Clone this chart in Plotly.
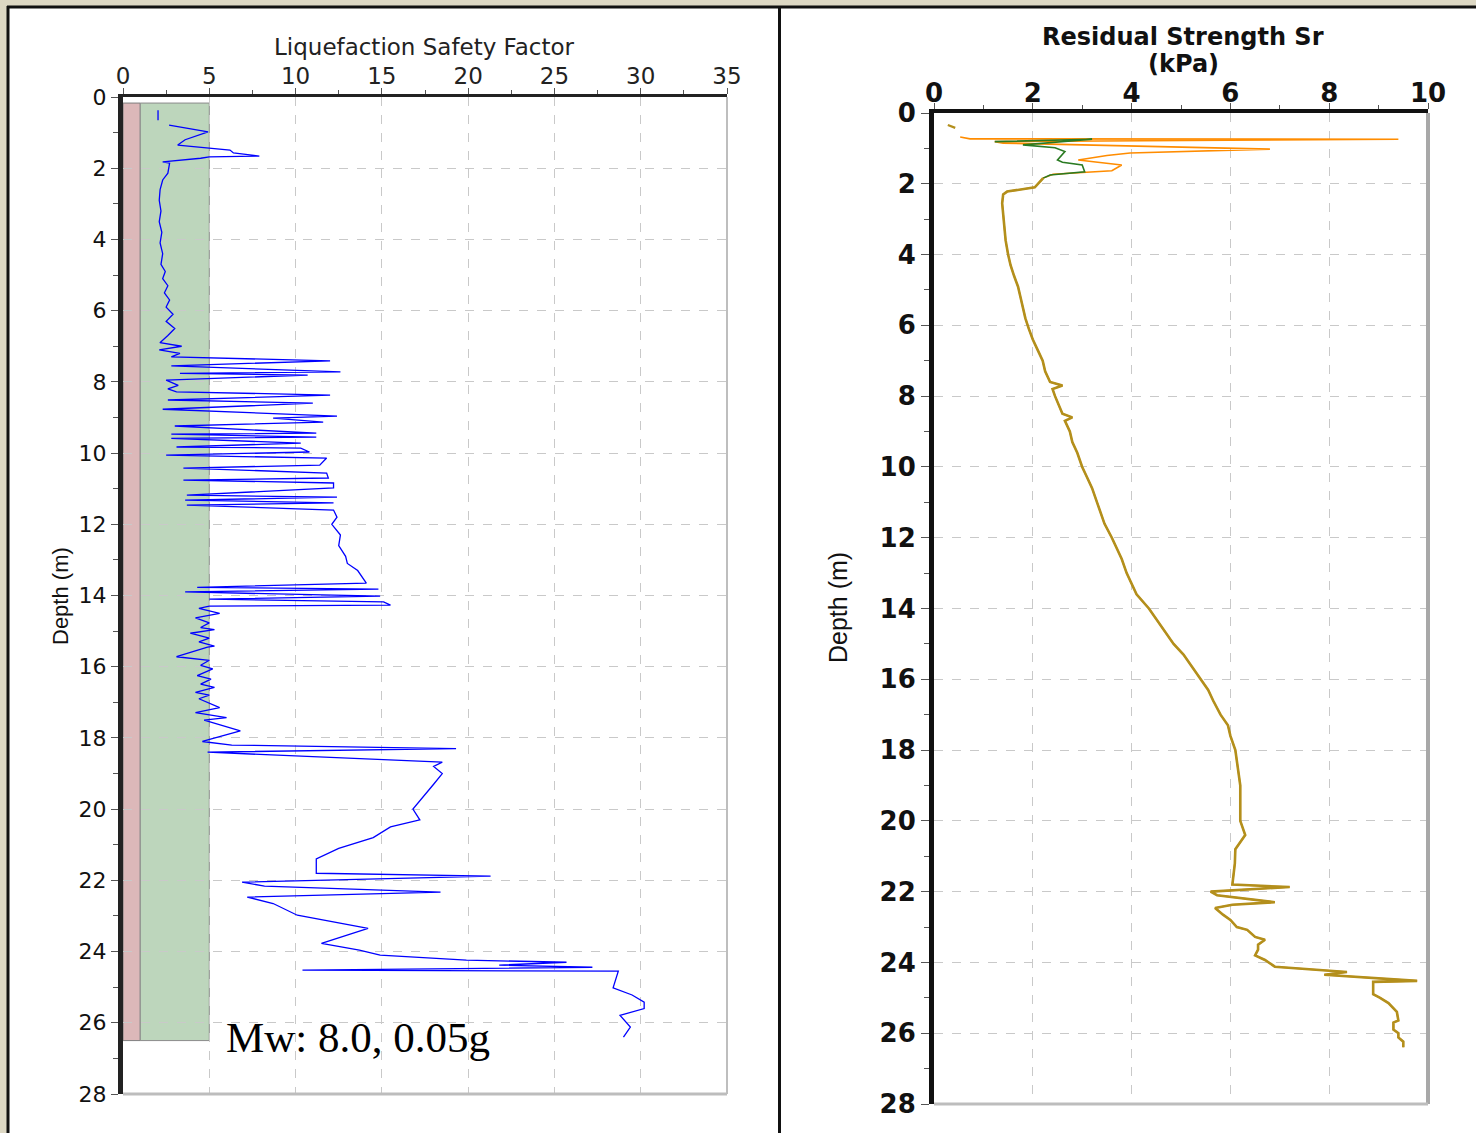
import plotly.graph_objects as go

W, H = 1476, 1133

# ---------------- Data: Liquefaction Safety Factor (left) ----------------
fs_depth = [0.37, 0.65, None,
            0.79, 0.98, 1.2, 1.35, 1.49, 1.57, 1.66, 1.68, 1.72, 1.82, 1.86, 2.14, 2.33,
            2.6, 2.9, 3.2, 3.5, 3.8, 4.1, 4.4, 4.7, 4.9, 5.1, 5.3, 5.5, 5.7, 5.9, 6.1, 6.3,
            6.5, 6.7, 6.9, 7.0, 7.1, 7.2, 7.3,
            7.41, 7.55, 7.72, 7.76, 7.81, 7.95, 8.1, 8.2, 8.28, 8.37, 8.51, 8.6, 8.77,
            8.96, 9.02, 9.13, 9.24, 9.44, 9.47, 9.55, 9.59, 9.72, 9.83, 9.86, 9.97, 10.06,
            10.14, 10.34, 10.42, 10.56, 10.7, 10.76, 10.84, 10.98, 11.18, 11.24, 11.32, 11.4,
            11.46, 11.6, 11.8, 12.0, 12.3, 12.6, 12.9, 13.1, 13.3, 13.5, 13.65,
            13.77, 13.82, 13.9, 14.02, 14.1, 14.18, 14.27, 14.3, 14.36, 14.5,
            14.63, 14.77, 14.9, 14.96, 15.06, 15.2, 15.3, 15.42, 15.45, 15.72, 15.82, 15.96,
            16.06, 16.25, 16.35, 16.49, 16.58, 16.72, 16.8, 16.9, 17.15, 17.29, 17.43, 17.5,
            17.8, 18.1, 18.2, 18.3, 18.4, 18.68, 18.8, 19.0, 19.3, 19.6, 20.0, 20.3, 20.5,
            20.8, 21.1, 21.4, 21.8, 21.88, 22.05, 22.16, 22.33, 22.47, 22.65, 22.98, 23.17,
            23.35, 23.77, 23.96, 24.1, 24.24, 24.3, 24.38, 24.44, 24.52, 24.55, 25.02, 25.22,
            25.42, 25.6, 25.79, 26.12, 26.4]
fs_value = [2.03, 2.03, None,
            2.67, 4.93, 3.6, 3.17, 6.2, 6.4, 7.9, 5.0, 4.5, 2.3, 2.7, 2.6, 2.3,
            2.15, 2.1, 2.2, 2.1, 2.25, 2.15, 2.3, 2.2, 2.45, 2.3, 2.6, 2.4, 2.7, 2.5, 2.9, 2.5,
            3.0, 2.6, 2.14, 3.4, 2.1, 3.3, 2.8,
            12.0, 2.8, 12.6, 3.3, 10.7, 2.5, 3.2, 2.6, 3.1, 12.0, 2.6, 11.0, 2.3,
            12.4, 8.7, 11.6, 3.0, 11.2, 2.8, 11.2, 2.8, 10.3, 3.1, 10.3, 10.8, 2.5,
            11.8, 11.4, 3.5, 11.8, 11.9, 3.5, 12.2, 12.2, 3.7, 12.4, 3.6, 12.2,
            3.7, 12.2, 12.4, 12.1, 12.6, 12.5, 12.9, 13.0, 13.6, 13.9, 14.1,
            4.3, 14.8, 3.6, 14.9, 5.0, 15.1, 15.5, 5.0, 4.4, 5.6,
            4.2, 5.0, 4.5, 5.3, 3.9, 5.0, 4.4, 5.3, 4.9, 3.1, 5.0, 4.5,
            5.2, 4.3, 5.1, 4.5, 5.3, 4.2, 5.0, 4.4, 5.6, 4.2, 6.0, 4.7,
            6.8, 4.6, 6.3, 19.3, 4.9, 18.5, 18.0, 18.5, 18.0, 17.5, 16.8, 17.2, 15.5,
            14.5, 12.5, 11.2, 11.2, 21.3, 6.9, 8.2, 18.4, 7.2, 8.7, 10.1, 12.2,
            14.2, 11.5, 13.7, 14.9, 19.9, 25.7, 21.8, 27.2, 10.4, 28.7, 28.4, 29.5,
            30.2, 30.2, 28.8, 29.4, 29.0]

# Zone bands (safety factor ranges)
band_top, band_bottom = 0.17, 26.5
band_red = [0, 1]
band_green = [1, 5]

# ---------------- Data: Residual Strength (right) ----------------
sr_depth = [0.68, 0.73, 0.74, 0.81, 0.85, 1.02, 1.13, 1.2, 1.33, 1.47, 1.63, 1.73, 1.84,
            2.1, 2.22, 2.3, 2.55, 2.93, 3.3, 3.6, 4.0, 4.3, 4.6, 4.9, 5.2, 5.5, 5.8, 6.1,
            6.4, 6.7, 7.0, 7.3, 7.6, 7.7, 7.8, 8.0, 8.3, 8.5, 8.6, 8.7, 9.0, 9.3, 9.6, 10.0,
            10.3, 10.6, 11.0, 11.3, 11.6, 12.0, 12.3, 12.6, 13.0, 13.3, 13.6, 14.0, 14.3,
            14.6, 15.0, 15.3, 15.6, 16.0, 16.3, 16.6, 17.0, 17.3, 17.6, 18.0, 18.5, 19.0,
            19.5, 20.0, 20.4, 20.8, 21.2, 21.8, 21.87, 22.0, 22.1, 22.3, 22.37, 22.46, 22.65,
            22.8, 23.0, 23.08, 23.28, 23.36, 23.5, 23.64, 23.8, 23.93, 24.12, 24.27, 24.35,
            24.44, 24.52, 24.55, 24.9, 25.0, 25.15, 25.4, 25.64, 25.7, 25.9, 26.0, 26.12,
            26.24, 26.4]
sr_value = [0.53, 0.73, 9.4, 1.23, 1.4, 6.8, 3.97, 3.5, 2.92, 3.8, 3.6, 2.41, 2.21,
            2.04, 1.48, 1.4, 1.38, 1.4, 1.42, 1.45, 1.5, 1.55, 1.62, 1.7, 1.75, 1.8, 1.85, 1.92,
            2.0, 2.1, 2.2, 2.25, 2.35, 2.6, 2.4, 2.45, 2.55, 2.6, 2.8, 2.65, 2.75, 2.8, 2.9, 3.0,
            3.1, 3.2, 3.3, 3.38, 3.45, 3.6, 3.7, 3.8, 3.9, 4.0, 4.1, 4.35, 4.5,
            4.65, 4.85, 5.05, 5.2, 5.4, 5.55, 5.65, 5.8, 5.95, 6.0, 6.1, 6.15, 6.2,
            6.2, 6.2, 6.3, 6.1, 6.09, 6.04, 7.2, 5.6, 5.73, 6.9, 6.04, 5.69, 5.85,
            6.0, 6.13, 6.34, 6.5, 6.7, 6.56, 6.56, 6.5, 6.7, 6.9, 8.36, 7.9,
            9.03, 9.78, 8.89, 8.89, 9.03, 9.2, 9.37, 9.4, 9.3, 9.3, 9.4, 9.4,
            9.5, 9.5]

sr_top_depth = [0.34, 0.42]
sr_top_value = [0.28, 0.43]

sr_green_depth = [0.81, 0.74, 0.9, 0.98, 1.09, 1.33, 1.39, 1.47, 1.66, 1.75, 1.84]
sr_green_value = [1.23, 3.2, 1.8, 2.45, 2.65, 2.5, 2.6, 3.0, 3.05, 2.35, 2.21]

gold_start = 12  # index in sr arrays where the curves coincide

annotation_text = "Mw: 8.0, 0.05g"

# ---------------- Figure ----------------
def px(x):
    return x / W

def py(y):
    return 1 - y / H

fig = go.Figure()

fig.add_trace(go.Scatter(x=fs_value, y=fs_depth, mode="lines",
                         line=dict(color="#0000ff", width=1.3),
                         connectgaps=False, xaxis="x", yaxis="y", showlegend=False))

fig.add_trace(go.Scatter(x=sr_value, y=sr_depth, mode="lines",
                         line=dict(color="#ff8c00", width=1.6),
                         xaxis="x2", yaxis="y2", showlegend=False))
fig.add_trace(go.Scatter(x=sr_green_value, y=sr_green_depth, mode="lines",
                         line=dict(color="#2a7a22", width=1.6),
                         xaxis="x2", yaxis="y2", showlegend=False))
fig.add_trace(go.Scatter(x=sr_value[gold_start:], y=sr_depth[gold_start:], mode="lines",
                         line=dict(color="#b38f1c", width=2.6),
                         xaxis="x2", yaxis="y2", showlegend=False))
fig.add_trace(go.Scatter(x=sr_top_value, y=sr_top_depth, mode="lines",
                         line=dict(color="#b38f1c", width=2.2),
                         xaxis="x2", yaxis="y2", showlegend=False))

grid = dict(showgrid=True, gridcolor="#c9c9c9", griddash="dash", gridwidth=1, zeroline=False)
lfont = dict(family="DejaVu Sans", size=23, color="#222")
lyfont = dict(family="DejaVu Sans", size=22, color="#111")
rfont = dict(family="DejaVu Sans", size=26, color="#111", weight="bold")

fig.update_layout(
    width=W, height=H, margin=dict(l=0, r=0, t=0, b=0, autoexpand=False),
    paper_bgcolor="#ddd8c4", plot_bgcolor="#ffffff",
    xaxis=dict(domain=[px(123), px(727)], anchor="y", side="top", range=[0, 35],
               tick0=0, dtick=5, ticks="outside", ticklen=6, tickcolor="#555",
               ticklabelstandoff=-5,
               minor=dict(dtick=2.5, ticks="outside", ticklen=4, tickcolor="#555", showgrid=False),
               showline=True, linecolor="#222", linewidth=3, tickfont=lfont, **grid),
    yaxis=dict(domain=[py(1094), py(97)], anchor="x", range=[28, 0],
               tick0=0, dtick=2, ticks="outside", ticklen=7, tickcolor="#555",
               minor=dict(dtick=1, ticks="outside", ticklen=5, tickcolor="#555", showgrid=False),
               showline=True, linecolor="#222", linewidth=5, tickfont=lyfont, **grid),
    xaxis2=dict(domain=[px(934), px(1428)], anchor="y2", side="top", range=[0, 10],
                tick0=0, dtick=2, ticks="outside", ticklen=6, tickcolor="#555",
                ticklabelstandoff=-9,
                minor=dict(dtick=1, ticks="outside", ticklen=4, tickcolor="#555", showgrid=False),
                showline=True, linecolor="#111", linewidth=4, tickfont=rfont, **grid),
    yaxis2=dict(domain=[py(1104), py(113)], anchor="x2", range=[28, 0],
                tick0=0, dtick=2, ticks="outside", ticklen=8, tickcolor="#555",
                minor=dict(dtick=1, ticks="outside", ticklen=5, tickcolor="#555", showgrid=False),
                showline=True, linecolor="#111", linewidth=5, tickfont=rfont, **grid),
)

shapes = [
    # panels
    dict(type="rect", xref="paper", yref="paper", x0=px(9), x1=px(778), y0=0, y1=py(8),
         fillcolor="white", line=dict(width=0), layer="below"),
    dict(type="rect", xref="paper", yref="paper", x0=px(781), x1=1, y0=0, y1=py(8),
         fillcolor="white", line=dict(width=0), layer="below"),
    dict(type="line", xref="paper", yref="paper", x0=px(7), x1=1, y0=py(7), y1=py(7),
         line=dict(color="#111", width=3)),
    dict(type="line", xref="paper", yref="paper", x0=px(8), x1=px(8), y0=0, y1=py(6),
         line=dict(color="#111", width=3)),
    dict(type="line", xref="paper", yref="paper", x0=px(779.5), x1=px(779.5), y0=0, y1=py(6),
         line=dict(color="#111", width=3)),
    # bands
    dict(type="rect", xref="x", yref="y", x0=band_red[0], x1=band_red[1], y0=band_top, y1=band_bottom,
         fillcolor="#dcb8b9", line=dict(color="#7f7f7f", width=1), layer="below"),
    dict(type="rect", xref="x", yref="y", x0=band_green[0], x1=band_green[1], y0=band_top, y1=band_bottom,
         fillcolor="#bdd6bc", line=dict(color="#8a8a8a", width=1), layer="below"),
    # gray right/bottom frames
    dict(type="line", xref="x domain", yref="y domain", x0=1, x1=1, y0=0, y1=1,
         line=dict(color="#a8a8a8", width=1.5)),
    dict(type="line", xref="x domain", yref="y domain", x0=0, x1=1, y0=0, y1=0,
         line=dict(color="#bdbdbd", width=3)),
    dict(type="line", xref="x2 domain", yref="y2 domain", x0=1, x1=1, y0=0, y1=1,
         line=dict(color="#a8a8a8", width=4)),
    dict(type="line", xref="x2 domain", yref="y2 domain", x0=0, x1=1, y0=0, y1=0,
         line=dict(color="#bdbdbd", width=3)),
]
fig.update_layout(shapes=shapes)

annotations = [
    dict(text="Liquefaction Safety Factor", x=px(424), y=py(47),
         font=dict(family="DejaVu Sans", size=23, color="#222")),
    dict(text="Depth (m)", x=px(60), y=py(596), textangle=-90,
         font=dict(family="Liberation Sans", size=22, color="#111")),
    dict(text="Residual Strength Sr", x=px(1183), y=py(37),
         font=dict(family="DejaVu Sans", size=24, color="#111", weight="bold")),
    dict(text="(kPa)", x=px(1183), y=py(64),
         font=dict(family="DejaVu Sans", size=24, color="#111", weight="bold")),
    dict(text="Depth (m)", x=px(838), y=py(608), textangle=-90,
         font=dict(family="Liberation Sans", size=25, color="#111")),
    dict(text=annotation_text, x=px(224), y=py(1037), xanchor="left",
         font=dict(family="Liberation Serif", size=43, color="#000")),
]
for a in annotations:
    a.setdefault("xanchor", "center")
    a.update(xref="paper", yref="paper", yanchor="middle", showarrow=False)
fig.update_layout(annotations=annotations)

fig.write_html("out.html")
